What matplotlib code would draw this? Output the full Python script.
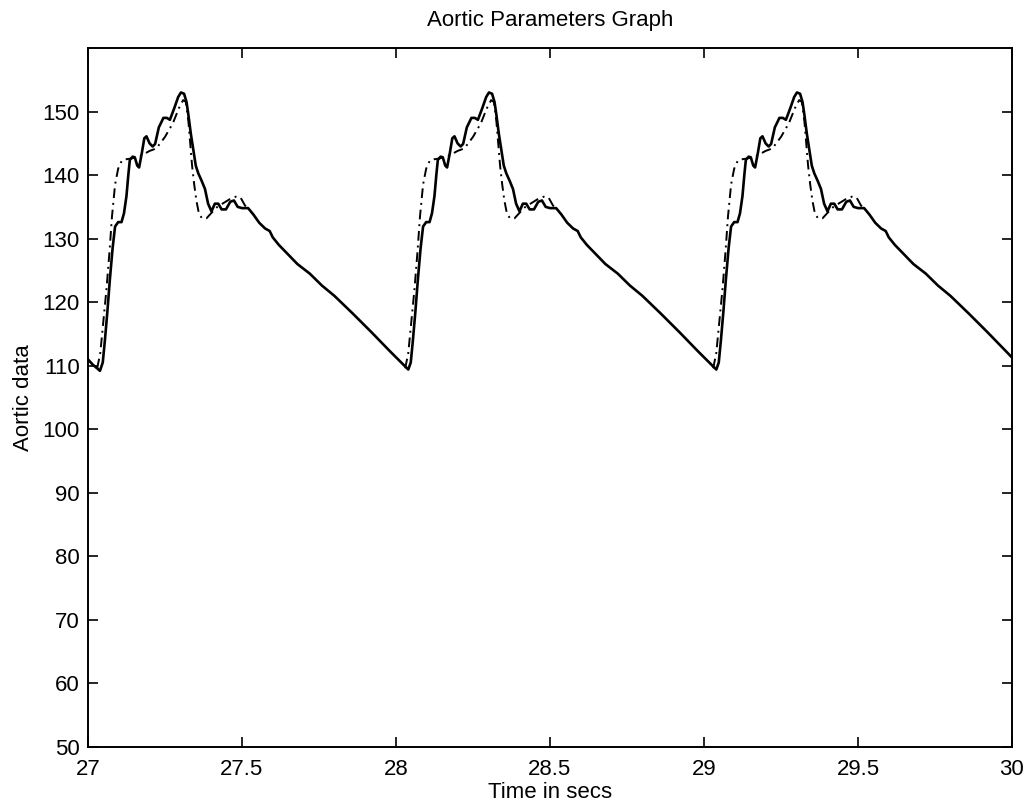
import matplotlib
matplotlib.use("Agg")
import matplotlib.pyplot as plt

plt.rcParams['font.family'] = ['Liberation Sans', 'DejaVu Sans']

# Measured aortic pressure (solid)
meas_time = [
    27.000, 27.015, 27.039, 27.048, 27.055, 27.063, 27.071, 27.080, 27.088, 27.098,
    27.109, 27.117, 27.125, 27.131, 27.136, 27.145, 27.152, 27.160, 27.166, 27.175,
    27.183, 27.190, 27.200, 27.210, 27.218, 27.230, 27.245, 27.256, 27.266, 27.280,
    27.293, 27.302, 27.312, 27.320, 27.326, 27.334, 27.342, 27.350, 27.358, 27.370,
    27.380, 27.390, 27.401, 27.412, 27.423, 27.434, 27.448, 27.462, 27.474, 27.486,
    27.500, 27.520, 27.537, 27.556, 27.575, 27.590, 27.600, 27.620, 27.640, 27.680,
    27.720, 27.760, 27.800, 27.860, 27.920, 27.980,
    28.040, 28.048, 28.055, 28.063, 28.071, 28.080, 28.088, 28.098,
    28.109, 28.117, 28.125, 28.131, 28.136, 28.145, 28.152, 28.160, 28.166, 28.175,
    28.183, 28.190, 28.200, 28.210, 28.218, 28.230, 28.245, 28.256, 28.266, 28.280,
    28.293, 28.302, 28.312, 28.320, 28.326, 28.334, 28.342, 28.350, 28.358, 28.370,
    28.380, 28.390, 28.401, 28.412, 28.423, 28.434, 28.448, 28.462, 28.474, 28.486,
    28.500, 28.520, 28.537, 28.556, 28.575, 28.590, 28.600, 28.620, 28.640, 28.680,
    28.720, 28.760, 28.800, 28.860, 28.920, 28.980,
    29.040, 29.048, 29.055, 29.063, 29.071, 29.080, 29.088, 29.098,
    29.109, 29.117, 29.125, 29.131, 29.136, 29.145, 29.152, 29.160, 29.166, 29.175,
    29.183, 29.190, 29.200, 29.210, 29.218, 29.230, 29.245, 29.256, 29.266, 29.280,
    29.293, 29.302, 29.312, 29.320, 29.326, 29.334, 29.342, 29.350, 29.358, 29.370,
    29.380, 29.390, 29.401, 29.412, 29.423, 29.434, 29.448, 29.462, 29.474, 29.486,
    29.500, 29.520, 29.537, 29.556, 29.575, 29.590, 29.600, 29.620, 29.640, 29.680,
    29.720, 29.760, 29.800, 29.860, 29.920, 30.000,
]
meas_pressure = [
    111.0, 110.2, 109.2, 110.5, 114.0, 118.5, 123.5, 128.5, 131.9, 132.6,
    132.6, 134.0, 136.7, 140.0, 142.4, 142.9, 142.8, 141.5, 141.2, 143.5,
    145.8, 146.1, 145.0, 144.5, 144.9, 147.5, 149.0, 149.0, 148.7, 150.5,
    152.3, 153.0, 152.8, 151.5, 149.5, 146.5, 144.0, 141.5, 140.3, 139.0,
    137.8, 135.5, 134.3, 135.5, 135.5, 134.6, 134.6, 135.8, 136.0, 135.0,
    134.8, 134.8, 133.8, 132.5, 131.6, 131.2, 130.2, 129.0, 128.0, 126.0,
    124.5, 122.6, 121.0, 118.2, 115.3, 112.3,
    109.4, 110.5, 114.0, 118.5, 123.5, 128.5, 131.9, 132.6,
    132.6, 134.0, 136.7, 140.0, 142.4, 142.9, 142.8, 141.5, 141.2, 143.5,
    145.8, 146.1, 145.0, 144.5, 144.9, 147.5, 149.0, 149.0, 148.7, 150.5,
    152.3, 153.0, 152.8, 151.5, 149.5, 146.5, 144.0, 141.5, 140.3, 139.0,
    137.8, 135.5, 134.3, 135.5, 135.5, 134.6, 134.6, 135.8, 136.0, 135.0,
    134.8, 134.8, 133.8, 132.5, 131.6, 131.2, 130.2, 129.0, 128.0, 126.0,
    124.5, 122.6, 121.0, 118.2, 115.3, 112.3,
    109.4, 110.5, 114.0, 118.5, 123.5, 128.5, 131.9, 132.6,
    132.6, 134.0, 136.7, 140.0, 142.4, 142.9, 142.8, 141.5, 141.2, 143.5,
    145.8, 146.1, 145.0, 144.5, 144.9, 147.5, 149.0, 149.0, 148.7, 150.5,
    152.3, 153.0, 152.8, 151.5, 149.5, 146.5, 144.0, 141.5, 140.3, 139.0,
    137.8, 135.5, 134.3, 135.5, 135.5, 134.6, 134.6, 135.8, 136.0, 135.0,
    134.8, 134.8, 133.8, 132.5, 131.6, 131.2, 130.2, 129.0, 128.0, 126.0,
    124.5, 122.6, 121.0, 118.2, 115.3, 111.3,
]

# Model aortic pressure (dash-dot), shown where it departs from the measurement
model_time = [
    [27.030, 27.040, 27.050, 27.060, 27.070, 27.078, 27.088, 27.098, 27.110, 27.125,
     27.140, 27.170, 27.200, 27.222, 27.250, 27.276, 27.295, 27.309, 27.318, 27.326,
     27.332, 27.338, 27.345, 27.352, 27.360, 27.370, 27.385, 27.400, 27.420, 27.440,
     27.460, 27.480, 27.495, 27.510, 27.520],
    [28.030, 28.040, 28.050, 28.060, 28.070, 28.078, 28.088, 28.098, 28.110, 28.125,
     28.140, 28.170, 28.200, 28.222, 28.250, 28.276, 28.295, 28.309, 28.318, 28.326,
     28.332, 28.338, 28.345, 28.352, 28.360, 28.370, 28.385, 28.400, 28.420, 28.440,
     28.460, 28.480, 28.495, 28.510, 28.520],
    [29.030, 29.040, 29.050, 29.060, 29.070, 29.078, 29.088, 29.098, 29.110, 29.125,
     29.140, 29.170, 29.200, 29.222, 29.250, 29.276, 29.295, 29.309, 29.318, 29.326,
     29.332, 29.338, 29.345, 29.352, 29.360, 29.370, 29.385, 29.400, 29.420, 29.440,
     29.460, 29.480, 29.495, 29.510, 29.520],
]
model_pressure = [
    [109.6, 112.0, 117.0, 122.0, 128.0, 133.5, 138.5, 141.0, 142.3, 142.5,
     142.6, 143.0, 143.8, 144.2, 146.0, 148.2, 150.5, 151.8, 151.5, 148.5,
     145.0, 141.5, 138.5, 136.0, 134.0, 133.2, 133.2, 134.0, 135.0, 135.6,
     136.2, 136.6, 136.5, 135.2, 134.8],
    [109.6, 112.0, 117.0, 122.0, 128.0, 133.5, 138.5, 141.0, 142.3, 142.5,
     142.6, 143.0, 143.8, 144.2, 146.0, 148.2, 150.5, 151.8, 151.5, 148.5,
     145.0, 141.5, 138.5, 136.0, 134.0, 133.2, 133.2, 134.0, 135.0, 135.6,
     136.2, 136.6, 136.5, 135.2, 134.8],
    [109.6, 112.0, 117.0, 122.0, 128.0, 133.5, 138.5, 141.0, 142.3, 142.5,
     142.6, 143.0, 143.8, 144.2, 146.0, 148.2, 150.5, 151.8, 151.5, 148.5,
     145.0, 141.5, 138.5, 136.0, 134.0, 133.2, 133.2, 134.0, 135.0, 135.6,
     136.2, 136.6, 136.5, 135.2, 134.8],
]

x_ticks = [27, 27.5, 28, 28.5, 29, 29.5, 30]
x_tick_labels = ["27", "27.5", "28", "28.5", "29", "29.5", "30"]
y_ticks = [50, 60, 70, 80, 90, 100, 110, 120, 130, 140, 150]

fig = plt.figure(figsize=(10.30, 8.08), dpi=100)
ax = fig.add_axes([0.0854, 0.0755, 0.8971, 0.8651])

for mt, mp in zip(model_time, model_pressure):
    ax.plot(mt, mp, color='black', linewidth=1.4, linestyle=(0, (5, 2.5, 1, 2.5)))
ax.plot(meas_time, meas_pressure, color='black', linewidth=1.9)

ax.set_xlim(27, 30)
ax.set_ylim(50, 160)
ax.set_xticks(x_ticks)
ax.set_xticklabels(x_tick_labels)
ax.set_yticks(y_ticks)
ax.tick_params(direction='in', length=7, width=1.2, top=True, right=True,
               labelsize=16, pad=6)
ax.tick_params(axis='x', pad=9)
for s in ax.spines.values():
    s.set_linewidth(1.4)

ax.set_title("Aortic Parameters Graph", fontsize=16, pad=16)
ax.set_xlabel("Time in secs", fontsize=16, labelpad=1)
ax.set_ylabel("Aortic data", fontsize=16, labelpad=6)

fig.savefig("out.png", dpi=100)
